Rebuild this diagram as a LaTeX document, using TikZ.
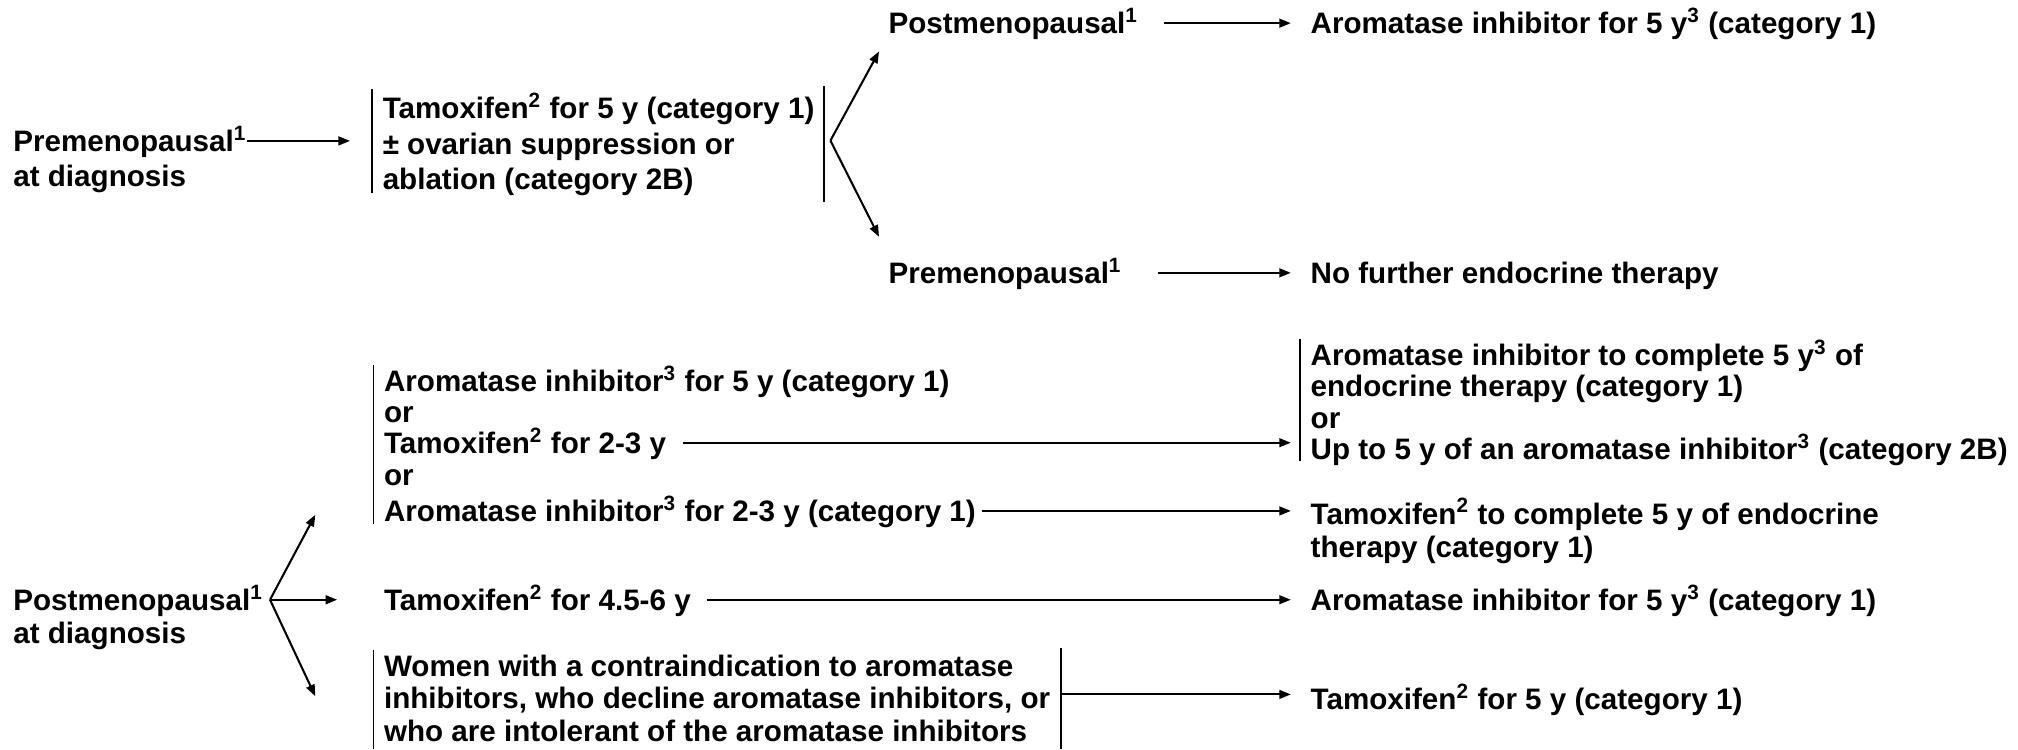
\documentclass[tikz,border=0pt]{standalone}
\usepackage{fontspec}
\setmainfont{Liberation Sans}
\usetikzlibrary{arrows.meta,positioning}
\newcommand{\fn}[1]{\textsuperscript{#1}}
\tikzset{
	lead/.style = {font = \fontsize{11.5}{#1}\selectfont\bfseries},
	txt/.style = {anchor = mid west, align = left, inner xsep = 0pt, inner ysep = 2pt, lead = 12.5pt, yshift = -1.5pt},
	arr/.style = {-{Triangle[length = 4.5pt, width = 3.4pt]}, line width = 0.8pt, transform canvas = {yshift = 1.5pt}},
	bar/.style = {line width = 0.5pt}
}

\begin{document}
\begin{tikzpicture}[x = 0.5pt, y = -0.5pt]
	\useasboundingbox (0,0) rectangle (1568,582);

	% premenopausal at diagnosis
	\node [txt, lead = 13.75pt] (pre1) at (10,137) {Premenopausal\fn{1}\\at diagnosis};
	\node [txt, lead = 13.75pt] (tam1) at (297,139) {Tamoxifen\fn{2} for 5 y (category 1)\\± ovarian suppression or\\ablation (category 2B)};
	\draw [bar] ([xshift = -4pt, yshift = -0.5pt] tam1.north west) -- ([xshift = -4pt, yshift = -1.5pt] tam1.base west);
	\draw [bar] ([xshift = 3.5pt, yshift = 0.5pt] tam1.north east) -- ([xshift = 3.5pt, yshift = -5pt] tam1.base east);
	\draw [arr, shorten >= 12.5pt] ([yshift = 13.75pt] pre1.mid east) -- ([yshift = 13.75pt] pre1.mid east -| tam1.west);

	\coordinate (fk1) at ([xshift = 6pt] tam1.east);
	\coordinate (up1) at (683,43);
	\coordinate (dn1) at (683,187);
	\draw [arr] (fk1) -- (up1);
	\draw [arr] (fk1) -- (dn1);

	\node [txt] (post1) at (690,18) {Postmenopausal\fn{1}};
	\node [txt] (ai1) at (1018,18) {Aromatase inhibitor for 5 y\fn{3} (category 1)};
	\draw [arr, shorten <= 10pt, shorten >= 7.5pt] (post1.mid east) -- (ai1.mid west);

	\node [txt] (pre2) at (690,212) {Premenopausal\fn{1}};
	\node [txt] (nft) at (1018,212) {No further endocrine therapy};
	\draw [arr, shorten <= 14pt, shorten >= 7.5pt] (pre2.mid east) -- (nft.mid west);

	% postmenopausal at diagnosis
	\node [txt, lead = 13pt] (post2) at (10,492) {Postmenopausal\fn{1}\\at diagnosis};
	\coordinate (fk2) at ([xshift = 2.5pt, yshift = 13pt] post2.mid east);
	\coordinate (up2) at (245,403);
	\coordinate (dn2) at (245,544);

	\node [txt] (ai2a) at (298,296) {Aromatase inhibitor\fn{3} for 5 y (category 1)};
	\node [txt] (or1) at (298,320) {or};
	\node [txt] (tam2) at (298,344) {Tamoxifen\fn{2} for 2-3 y};
	\node [txt] (or2) at (298,369) {or};
	\node [txt] (ai2b) at (298,397) {Aromatase inhibitor\fn{3} for 2-3 y (category 1)};
	\draw [bar] ([xshift = -4pt, yshift = -2pt] ai2a.north west) -- ([xshift = -4pt, yshift = -1pt] ai2b.base west);

	\node [txt, lead = 12.25pt] (ai3) at (1018,349) {Aromatase inhibitor to complete 5 y\fn{3} of\\endocrine therapy (category 1)\\or\\Up to 5 y of an aromatase inhibitor\fn{3} (category 2B)};
	\draw [bar] ([xshift = -4pt, yshift = -2pt] ai3.north west) -- ([xshift = -4pt, yshift = -0.5pt] ai3.base west);
	\draw [arr, shorten <= 6.5pt, shorten >= 7.5pt] (tam2.mid east) -- (tam2.mid east -| ai3.west);

	\node [txt, lead = 13pt] (tam3) at (1018,425) {Tamoxifen\fn{2} to complete 5 y of endocrine\\therapy (category 1)};
	\draw [arr, shorten <= 2pt, shorten >= 7.5pt] (ai2b.mid east) -- (ai2b.mid east -| tam3.west);

	\node [txt] (tam4) at (298,466) {Tamoxifen\fn{2} for 4.5-6 y};
	\node [txt] (ai4) at (1018,466) {Aromatase inhibitor for 5 y\fn{3} (category 1)};
	\draw [arr, shorten <= 6pt, shorten >= 7.5pt] (tam4.mid east) -- (ai4.mid west);

	\node [txt, lead = 12.75pt] (wom) at (298,568) {Women with a contraindication to aromatase\\inhibitors, who decline aromatase inhibitors, or\\who are intolerant of the aromatase inhibitors};
	\draw [bar] ([xshift = -4pt, yshift = -0.5pt] wom.north west) -- ([xshift = -4pt, yshift = -3pt] wom.base west);
	\draw [bar] ([xshift = 4pt, yshift = 0.5pt] wom.north east) -- ([xshift = 4pt, yshift = -3pt] wom.base east);
	\node [txt] (tam5) at (1018,543) {Tamoxifen\fn{2} for 5 y (category 1)};
	\draw [arr, shorten >= 7.5pt] ([xshift = 4pt] wom.east) -- (wom.east -| tam5.west);

	\draw [arr] (fk2) -- (up2);
	\draw [arr, shorten >= 18pt] (fk2) -- (tam4.mid west);
	\draw [arr] (fk2) -- (dn2);
\end{tikzpicture}
\end{document}
